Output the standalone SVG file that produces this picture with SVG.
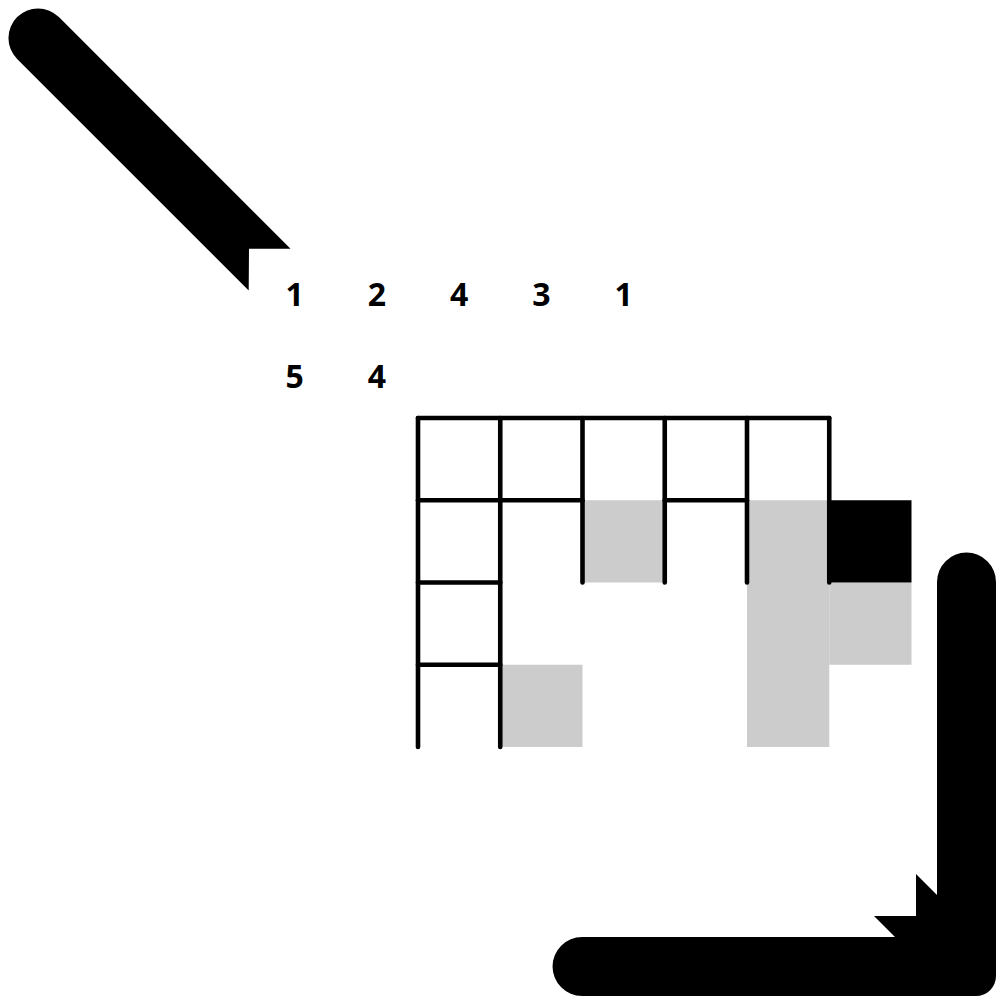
<svg xmlns="http://www.w3.org/2000/svg" width="1000" height="1000" viewBox="0 0 1000 1000">
<style>
.grid{stroke:#000;stroke-width:4.6;stroke-linecap:round;fill:none}
.shade{fill:#cccccc}
.dark{fill:#000}
.arrow{fill:#000}
.num{font-family:"Noto Sans","DejaVu Sans",sans-serif;font-weight:700;font-size:32px;fill:#000;text-anchor:middle}
</style>
<rect width="1000" height="1000" fill="#fff"/>
<g id="cells">
<rect class="shade" x="582.5" y="500.25" width="82.25" height="82.25"/>
<rect class="shade" x="747" y="500.25" width="82.25" height="246.75"/>
<rect class="shade" x="829.25" y="582.5" width="82.25" height="82.25"/>
<rect class="shade" x="500.25" y="664.75" width="82.25" height="82.25"/>
<rect class="dark" x="829.25" y="500.25" width="82.25" height="82.25"/>
</g>
<g id="grid" class="grid">
<line x1="418" y1="418" x2="829.25" y2="418"/>
<line x1="418" y1="418" x2="418" y2="747"/>
<line x1="500.25" y1="418" x2="500.25" y2="747"/>
<line x1="582.5" y1="418" x2="582.5" y2="582.5"/>
<line x1="664.75" y1="418" x2="664.75" y2="582.5"/>
<line x1="747" y1="418" x2="747" y2="582.5"/>
<line x1="829.25" y1="418" x2="829.25" y2="582.5"/>
<line x1="418" y1="500.25" x2="582.5" y2="500.25"/>
<line x1="664.75" y1="500.25" x2="747" y2="500.25"/>
<line x1="418" y1="582.5" x2="500.25" y2="582.5"/>
<line x1="418" y1="664.75" x2="500.25" y2="664.75"/>
</g>
<g id="labels" class="num">
<text x="294.6" y="306">1</text>
<text x="376.9" y="306">2</text>
<text x="459.1" y="306">4</text>
<text x="541.4" y="306">3</text>
<text x="623.6" y="306">1</text>
<text x="294.6" y="388">5</text>
<text x="376.9" y="388">4</text>
</g>
<g id="connectors">
<path class="arrow" d="M 17.1 58.9 A 29.5 29.5 0 0 1 58.9 17.1 L 290.5 248.7 L 249 248.7 L 248.7 290.5 Z"/>
<path class="arrow" d="M 937 582 A 29.5 29.5 0 0 1 996 582 L 996 976 A 20 20 0 0 1 976 996 L 582 996 A 29.5 29.5 0 0 1 582 937 L 895 937 L 874 916 L 916 916 L 916 874 L 937 895 Z"/>
</g>
</svg>
